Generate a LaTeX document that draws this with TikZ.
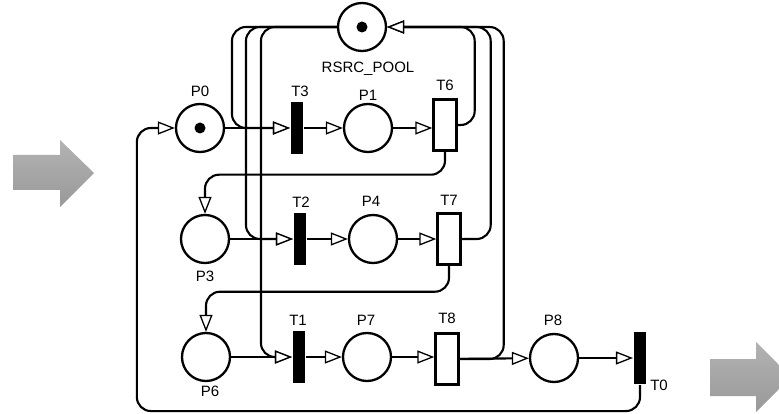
\documentclass[tikz,border=0pt]{standalone}
\usepackage{fontspec}
\setmainfont{Liberation Sans}
\usetikzlibrary{arrows.meta}

\begin{document}
\begin{tikzpicture}[x=1pt, y=-1pt, line width=2.1pt,
  place/.style={circle, draw, line width=2.3pt, minimum size=48pt, inner sep=0pt},
  token/.style={circle, fill=black, minimum size=11pt, inner sep=0pt},
  tbar/.style={rectangle, fill=black, minimum width=12pt, minimum height=52pt, inner sep=0pt},
  tbox/.style={rectangle, draw, fill=white, line width=2.4pt, minimum width=23pt, minimum height=51pt, inner sep=0pt},
  lbl/.style={font=\fontsize{15}{17}\selectfont, inner sep=0pt, text height=10.7pt, text depth=0pt},
  arc/.style={-{Triangle[length=17pt, width=13pt, fill=white, line width=1.3pt]}, rounded corners=14pt},
  bigarrow/.style={top color=black!30, bottom color=black!40, draw=none}]

\useasboundingbox (0,0) rectangle (779,414);

% Grey arrows
\path[bigarrow] (13,155) -- (60,155) -- (60,140) -- (94,173) -- (60,207) -- (60,190) -- (13,190) -- cycle;
\path[bigarrow] (710,359) -- (756,359) -- (756,342) -- (791,377) -- (756,412) -- (756,396) -- (710,396) -- cycle;

% Places
\node[place] (pool) at (362,27) {};
\node[token] (tkpool) at (pool) {};
\node[place] (p0) at (200,128) {};
\node[token] (tk0) at (p0) {};
\node[place] (p1) at (368,128) {};
\node[place] (p3) at (205,239) {};
\node[place] (p4) at (373,239) {};
\node[place] (p6) at (206,357) {};
\node[place] (p7) at (367,357) {};
\node[place] (p8) at (554,358) {};

% Transitions
\node[tbar] (t3) at (297,128) {};
\node[tbox] (t6) at (445,125) {};
\node[tbar] (t2) at (300,239) {};
\node[tbox] (t7) at (449,239) {};
\node[tbar] (t1) at (299,357) {};
\node[tbox] (t8) at (447,359) {};
\node[tbar] (t0) at (640,358) {};

% Labels
\node[lbl] (poollbl) at (368,67) {RSRC\_POOL};
\node[lbl] (p0lbl) at (200,91) {P0};
\node[lbl] (t3lbl) at (300,91) {T3};
\node[lbl] (p1lbl) at (368,95) {P1};
\node[lbl] (t6lbl) at (445,85) {T6};
\node[lbl] (p3lbl) at (205,276) {P3};
\node[lbl] (t2lbl) at (301,202) {T2};
\node[lbl] (p4lbl) at (371,201) {P4};
\node[lbl] (t7lbl) at (449,200) {T7};
\node[lbl] (p6lbl) at (210,391) {P6};
\node[lbl] (t1lbl) at (298,320) {T1};
\node[lbl] (p7lbl) at (366,320) {P7};
\node[lbl] (t8lbl) at (447,318) {T8};
\node[lbl] (p8lbl) at (553,320) {P8};
\node[lbl] (t0lbl) at (659,385) {T0};

% Resource pool out
\draw[arc] (pool.west) -| ([xshift=-58pt]t3.west) -- (t3.west);
\draw[arc] (pool.west) -| ([xshift=-47pt]t2.west) -- (t2.west);
\draw[arc] (pool.west) -| ([xshift=-31pt]t1.west) -- (t1.west);

% Resource pool back
\draw[arc] (t6.east) -- ([xshift=17pt]t6.east) |- (pool.east);
\draw[arc] (t7.east) -- ([xshift=29pt]t7.east) |- (pool.east);
\draw[arc] (t8.east) -- ([xshift=44pt]t8.east) |- (pool.east);

% Rows
\draw[arc] (p0) -- (p0 -| t3.west);
\draw[arc] (t3) -- (p1);
\draw[arc] (p1) -- (p1 -| t6.west);
\draw[arc] (p3) -- (p3 -| t2.west);
\draw[arc] (t2) -- (p4);
\draw[arc] (p4) -- (p4 -| t7.west);
\draw[arc] (p6) -- (p6 -| t1.west);
\draw[arc] (t1) -- (p7);
\draw[arc] (p7) -- (p7 -| t8.west);
\draw[arc] (t8) -- (p8);
\draw[arc] (p8) -- (p8 -| t0.west);

% Feedback
\draw[arc] (t6.south) -- ++(0,23) -| (p3.north);
\draw[arc] (t7.south) -- ++(0,26) -| (p6.north);
\draw[arc] (t0.south) -- ++(0,26) -| ([xshift=-38pt]p0.west) -- (p0.west);

\end{tikzpicture}
\end{document}
